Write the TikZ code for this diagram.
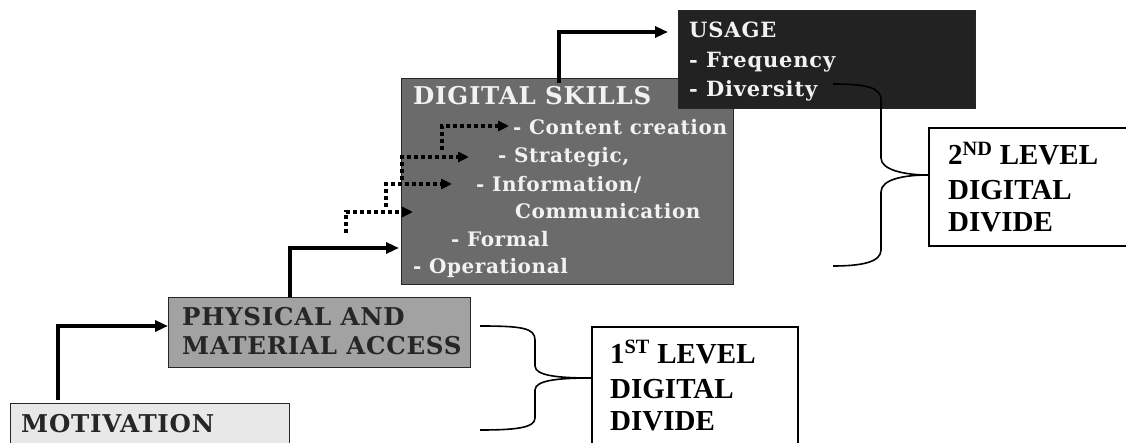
\documentclass[tikz,border=0pt]{standalone}
\usepackage{fontspec}
\newfontfamily\timesf{Liberation Serif}
\newfontfamily\serifb{DejaVu Serif}[LetterSpace=3]
\newfontfamily\serifu{DejaVu Serif}[LetterSpace=4]
\usetikzlibrary{arrows.meta}
\definecolor{motfill}{HTML}{E8E8E8}
\definecolor{physfill}{HTML}{A2A2A2}
\definecolor{digfill}{HTML}{6B6B6B}
\definecolor{usefill}{HTML}{222222}
\begin{document}
\begin{tikzpicture}[x=1pt,y=-1pt,
  box/.style={draw=black!85, line width=1.3pt, inner sep=0pt, anchor=north west},
  lvlbox/.style={draw=black, line width=1.6pt, fill=white, inner sep=0pt, anchor=north west},
  biglbl/.style={anchor=base west, inner sep=0pt, font=\serifb\bfseries\fontsize{24.5}{24.5}\selectfont, text=black!85},
  smalllbl/.style={anchor=base west, inner sep=0pt, font=\serifb\bfseries\fontsize{20}{20}\selectfont, text=white!95!black},
  uselbl/.style={anchor=base west, inner sep=0pt, font=\serifu\bfseries\fontsize{21}{21}\selectfont, text=white!95!black},
  lvllbl/.style={anchor=base west, inner sep=0pt, font=\timesf\bfseries\fontsize{29}{29}\selectfont},
  solidarrow/.style={line width=3.6pt, -{Triangle[length=13pt,width=11pt]}},
  dotarrow/.style={line width=4pt, dash pattern=on 4pt off 3pt, -{Triangle[length=11pt,width=10pt]}},
  brace/.style={line width=1.6pt}
]
\useasboundingbox (0,0) rectangle (1126,443);

% boxes
\node[box, fill=motfill, minimum width=279pt, minimum height=60pt] (mot) at (10,403) {};
\node[box, fill=physfill, minimum width=302pt, minimum height=70pt] (phys) at (168,297) {};
\node[box, fill=digfill, minimum width=332pt, minimum height=206pt] (dig) at (401,78) {};
\node[box, fill=usefill, minimum width=297pt, minimum height=98pt] (use) at (678,10) {};
\node[lvlbox, minimum width=206pt, minimum height=140pt] (lvlone) at (591,326) {};
\node[lvlbox, minimum width=220pt, minimum height=118pt] (lvltwo) at (928,127) {};

% labels
\node[biglbl] (motlbl) at (21,432) {MOTIVATION};
\node[biglbl] (physlblA) at (182,326) {PHYSICAL AND};
\node[biglbl] (physlblB) at (182,354) {MATERIAL ACCESS};
\node[biglbl, text=white!95!black] (diglbl) at (413,105) {DIGITAL SKILLS};
\node[smalllbl] (itA) at (513,135) {- Content creation};
\node[smalllbl] (itB) at (498,163) {- Strategic,};
\node[smalllbl] (itC) at (476,192) {- Information/};
\node[smalllbl] (itD) at (515,219) {Communication};
\node[smalllbl] (itE) at (451,247) {- Formal};
\node[smalllbl] (itF) at (413,274) {- Operational};
\node[uselbl] (uselblA) at (689,38) {USAGE};
\node[uselbl] (uselblB) at (689,68) {- Frequency};
\node[uselbl] (uselblC) at (689,97) {- Diversity};
\node[lvllbl] (lA) at (610,363) {1\textsuperscript{ST} LEVEL};
\node[lvllbl] (lB) at (610,398) {DIGITAL};
\node[lvllbl] (lC) at (610,430) {DIVIDE};
\node[lvllbl] (mA) at (948,165) {2\textsuperscript{ND} LEVEL};
\node[lvllbl] (mB) at (948,200) {DIGITAL};
\node[lvllbl] (mC) at (948,232) {DIVIDE};

% solid arrows
\draw[solidarrow] ([xshift=48pt,yshift=3pt]mot.north west) |- ([yshift=-29pt]phys.north west);
\draw[solidarrow] ([xshift=122pt]phys.north west) |- ([xshift=-2pt,yshift=-170pt]dig.north west);
\draw[solidarrow] ([xshift=158pt,yshift=-5pt]dig.north west) |- ([xshift=-10pt,yshift=-22pt]use.north west);

% dotted arrows
\coordinate (dAs) at (346,233); \coordinate (dAe) at (413,212);
\coordinate (dBs) at (386,207); \coordinate (dBe) at (452,184);
\coordinate (dCs) at (402,180); \coordinate (dCe) at (469,157);
\coordinate (dDs) at (442,150); \coordinate (dDe) at (509,126);
\draw[dotarrow] (dAs) |- (dAe);
\draw[dotarrow] (dBs) |- (dBe);
\draw[dotarrow] (dCs) |- (dCe);
\draw[dotarrow] (dDs) |- (dDe);

% braces
\coordinate (bAt) at (480,326);
\coordinate (bAb) at (480,430);
\draw[brace] (bAt) .. controls (522,326) and (535,328) .. (535,340) -- (535,366)
  .. controls (535,376) and (560,378) .. ([yshift=-52pt]lvlone.north west)
  .. controls (560,378) and (535,380) .. (535,390) -- (535,418)
  .. controls (535,428) and (515,430) .. (bAb);
\coordinate (bBt) at (833,84);
\coordinate (bBb) at (833,266);
\draw[brace] (bBt) .. controls (868,84) and (881,88) .. (881,100) -- (881,158)
  .. controls (881,170) and (905,175) .. ([yshift=-48pt]lvltwo.north west)
  .. controls (905,175) and (881,179) .. (881,192) -- (881,250)
  .. controls (881,262) and (862,266) .. (bBb);
\end{tikzpicture}
\end{document}
